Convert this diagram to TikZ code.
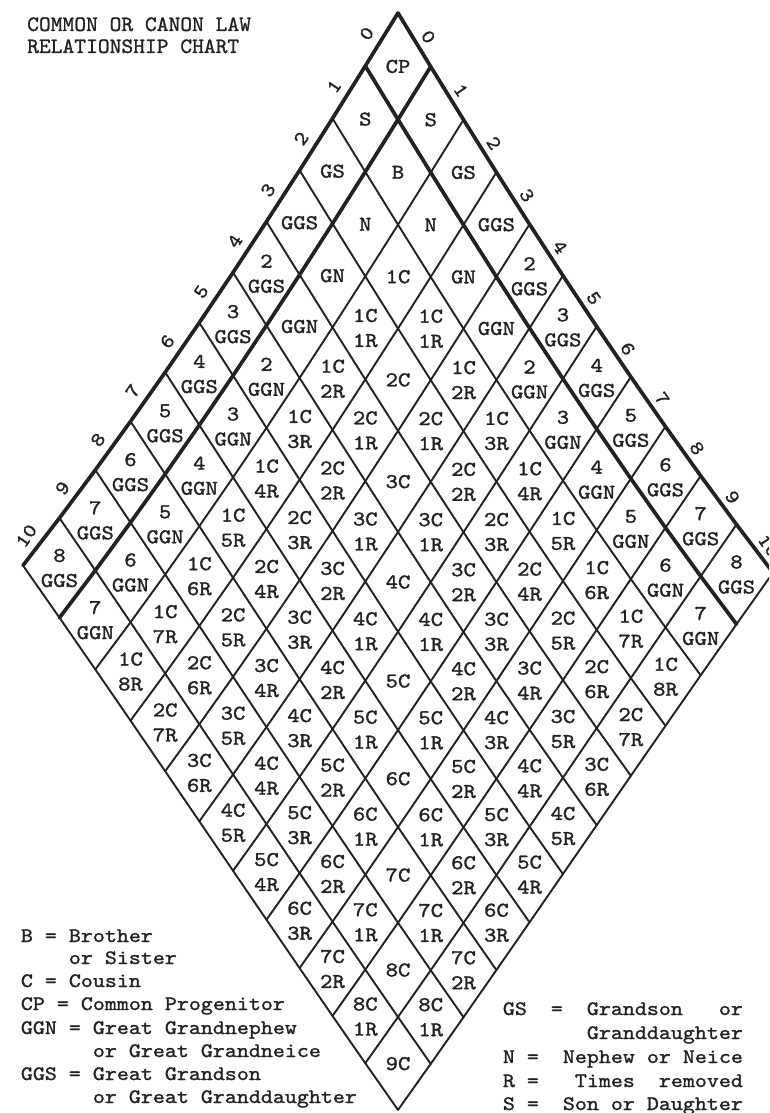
\documentclass[tikz,border=0pt]{standalone}
\usepackage{fontspec}
\newfontfamily\cellfont[FakeStretch=1.12,FakeBold=1.4]{lmmono10-regular.otf}
\newfontfamily\legfont[FakeStretch=1.115,FakeBold=1.2]{lmmono10-regular.otf}
\newfontfamily\titfont[FakeStretch=1.02,FakeBold=1.0]{lmmono10-regular.otf}
\definecolor{ink}{RGB}{34,34,34}
\newcount\relm
\newcount\reld
\newif\ifreltwo
\newcommand\relcalc[2]{%
  \relm=#1\relax
  \ifnum#2<\relm \relm=#2\relax\fi
  \reld=\numexpr#1-#2\relax
  \ifnum\reld<0 \reld=-\reld\fi
  \reltwofalse
  \ifnum\relm=0
    \ifcase\reld\def\relA{CP}\or\def\relA{S}\or\def\relA{GS}\or\def\relA{GGS}\else
      \reltwotrue\edef\relA{\the\numexpr\reld-2\relax}\def\relB{GGS}\fi
  \else
    \ifnum\relm=1
      \ifcase\reld\def\relA{B}\or\def\relA{N}\or\def\relA{GN}\or\def\relA{GGN}\else
        \reltwotrue\edef\relA{\the\numexpr\reld-2\relax}\def\relB{GGN}\fi
    \else
      \edef\relA{\the\numexpr\relm-1\relax C}%
      \ifnum\reld>0 \reltwotrue\edef\relB{\the\reld R}\fi
    \fi
  \fi}
\newcommand\mapab[2]{%
  \pgfmathsetmacro\mapS{(#1)+(#2)}%
  \pgfmathsetmacro\mapD{(#2)-(#1)}%
  \pgfmathsetmacro\mapX{398+32.7*(\mapD)+0.0115*(\mapD)*(\mapD)*(\mapD)}%
  \pgfmathsetmacro\mapY{-(13+53.6*(\mapS)-0.17*(\mapS)*(\mapS)-0.1075*(\mapD)*(\mapD)+0.325*(\mapD))}%
}
\begin{document}
\begin{tikzpicture}[x=1pt,y=1pt,
  thinl/.style={draw=ink,line width=1.9pt,line join=round,line cap=round},
  thickl/.style={draw=ink,line width=3.7pt,line join=round,line cap=round},
  cell/.style={font=\cellfont\fontsize{21}{25}\selectfont,align=center,inner sep=0pt,text=ink},
  edgelab/.style={font=\cellfont\fontsize{20}{20}\selectfont,inner sep=0pt,text=ink},
  legend/.style={font=\legfont\fontsize{20.5}{23}\selectfont,inner sep=0pt,anchor=base west,text=ink},
  titlestyle/.style={font=\titfont\fontsize{22}{22}\selectfont,inner sep=0pt,anchor=base west,text=ink}]
\useasboundingbox (0,0) rectangle (769,-1113);
\fill[white] (0,0) rectangle (769,-1113);
\clip (0,0) rectangle (769,-1113);
% grid points
\foreach \a in {0,...,11}{
  \foreach \b in {0,...,11}{
    \mapab{\a}{\b}
    \coordinate (p-\a-\b) at (\mapX,\mapY);
  }
}
% thin grid lines
\foreach \a in {2,...,11}{
  \draw[thinl] (p-\a-0) \foreach \b in {1,...,11}{ -- (p-\a-\b)};
}
\foreach \b in {2,...,11}{
  \draw[thinl] (p-0-\b) \foreach \a in {1,...,11}{ -- (p-\a-\b)};
}
% thick lines
\foreach \a in {0,1}{
  \draw[thickl] (p-\a-0) \foreach \b in {1,...,11}{ -- (p-\a-\b)};
}
\foreach \b in {0,1}{
  \draw[thickl] (p-0-\b) \foreach \a in {1,...,11}{ -- (p-\a-\b)};
}
% cell labels
\foreach \i in {0,...,10}{
  \foreach \j in {0,...,10}{
    \relcalc{\i}{\j}%
    \mapab{\i+0.5}{\j+0.5}%
    \ifreltwo
      \node[cell] (c-\i-\j) at (\mapX,\mapY) {\relA\\\relB};
    \else
      \node[cell] (c-\i-\j) at (\mapX,\mapY) {\relA};
    \fi
  }
}
% edge numbers
\foreach \i in {0,...,10}{
  \mapab{\i+0.5}{0}%
  \node[edgelab,rotate=55.5] (left-\i) at ([shift={(-15,6)}]\mapX,\mapY) {\i};
  \mapab{0}{\i+0.5}%
  \node[edgelab,rotate=-56] (right-\i) at ([shift={(14,3)}]\mapX,\mapY) {\i};
}
% title
\node[titlestyle] (title1) at (27,-31) {COMMON OR CANON LAW};
\node[titlestyle] (title2) at (27,-53) {RELATIONSHIP CHART};
% left legend
\node[legend] (lg1) at (20.7,-942) {B = Brother};
\node[legend] (lg2) at (68.7,-964) {or Sister};
\node[legend] (lg3) at (20.7,-987) {C = Cousin};
\node[legend] (lg4) at (20.7,-1010) {CP = Common Progenitor};
\node[legend] (lg5) at (20.7,-1034) {GGN = Great Grandnephew};
\node[legend] (lg6) at (92.7,-1057) {or Great Grandneice};
\node[legend] (lg7) at (20.7,-1080) {GGS = Great Grandson};
\node[legend] (lg8) at (92.7,-1103) {or Great Granddaughter};
% right legend
\node[legend] (rg1) at (502.7,-1015) {GS~~=~~Grandson~~~or};
\node[legend] (rg2) at (586.7,-1039) {Granddaughter};
\node[legend] (rg3) at (502.7,-1063) {N~=~~Nephew~or~Neice};
\node[legend] (rg4) at (502.7,-1087) {R~=~~~Times~~removed};
\node[legend] (rg5) at (502.7,-1110) {S~=~~Son~or~Daughter};
\end{tikzpicture}
\end{document}
